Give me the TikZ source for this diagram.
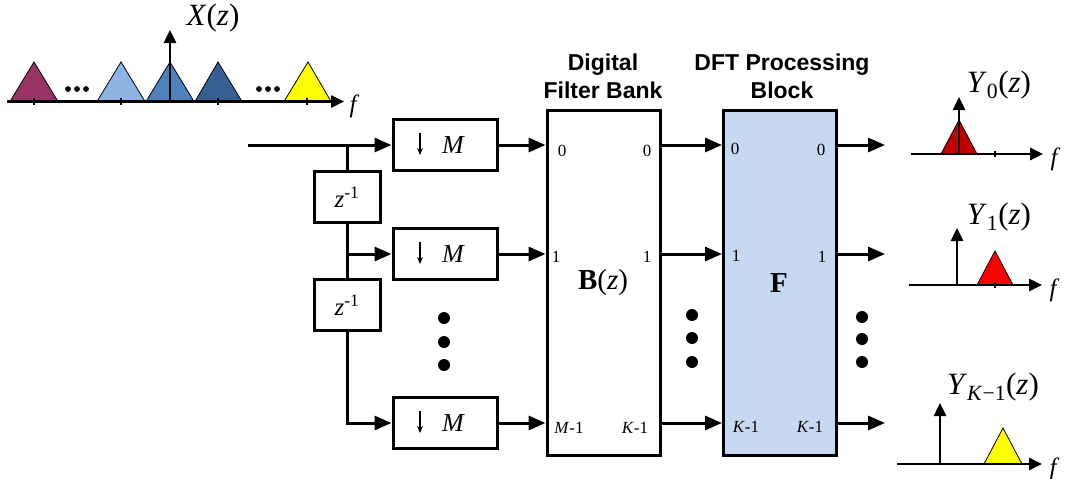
\documentclass[tikz,border=0pt]{standalone}
\usepackage{fontspec}
\setmainfont{Liberation Serif}
\newfontfamily\hdfont{Liberation Sans}
\usetikzlibrary{arrows.meta}
\definecolor{cmaroon}{HTML}{993366}
\definecolor{clblue}{HTML}{8EB4E3}
\definecolor{cmblue}{HTML}{4F81BD}
\definecolor{cdblue}{HTML}{376092}
\definecolor{cyel}{HTML}{FFFF00}
\definecolor{cdred}{HTML}{C00000}
\definecolor{cred}{HTML}{FF0000}
\definecolor{dftblue}{HTML}{C6D9F1}
\begin{document}
\begin{tikzpicture}[x=1pt,y=-1pt,
  wire/.style={line width=3pt, -{Triangle[length=17pt,width=14pt]}},
  plain/.style={line width=3pt},
  blk/.style={draw, line width=3pt, minimum width=104pt, minimum height=51pt, inner sep=0pt},
  zblk/.style={draw, line width=3pt, minimum width=66pt, minimum height=51pt, inner sep=0pt, font=\fontsize{25}{25}\selectfont},
  big/.style={draw, line width=3pt, minimum width=113pt, minimum height=345pt, inner sep=0pt},
  port/.style={font=\fontsize{17}{17}\selectfont, inner sep=0pt},
  mlab/.style={inner sep=0pt, font=\fontsize{26}{26}\selectfont\itshape},
  dnarrow/.style={line width=1.2pt, -{Stealth[length=7pt,width=6pt]}},
  title/.style={font=\hdfont\bfseries\fontsize{23}{28}\selectfont, align=center, inner sep=0pt},
  dotn/.style={circle, fill, inner sep=0pt, minimum size=12pt},
  axis/.style={line width=2.5pt, -{Triangle[length=13pt,width=12pt]}},
  tri/.style={draw=black, line width=0.8pt},
  tick/.style={line width=2pt},
  lbl/.style={inner sep=0pt, font=\fontsize{31}{31}\selectfont},
  flab/.style={inner sep=0pt, font=\fontsize{25}{25}\selectfont\itshape},
  bigtxt/.style={inner sep=0pt, font=\fontsize{29}{29}\selectfont},
]
\useasboundingbox (0,0) rectangle (1066,479);

% ---------- input spectrum ----------
\filldraw[tri, fill=cmaroon] (10,101.5) -- (34,62) -- (58,101.5) -- cycle;
\filldraw[tri, fill=clblue] (97,101.5) -- (121,62) -- (145,101.5) -- cycle;
\filldraw[tri, fill=cmblue] (146,101.5) -- (170,62) -- (194,101.5) -- cycle;
\filldraw[tri, fill=cdblue] (195,101.5) -- (218,62) -- (242,101.5) -- cycle;
\filldraw[tri, fill=cyel] (284,101.5) -- (308,62) -- (331,101.5) -- cycle;
\foreach \x in {68,77,86,259,268,277} \fill (\x,89) circle (2.9pt);
\draw[axis] (7,101.5) -- (344,101.5);
\foreach \x in {34,121,218,307} \draw[tick] (\x,98) -- (\x,105);
\draw[axis] (170,101.5) -- (170,30);
\node[lbl, font=\fontsize{31}{31}\selectfont] (xz) at (213,18) {\textit{X}(\textit{z})};
\node[flab] (f0) at (353,106) {f};

% ---------- polyphase input ----------
\node[blk] (dec0) at (445,145) {};
\node[blk] (dec1) at (445,254) {};
\node[blk] (dec2) at (445,423) {};
\foreach \i in {0,1,2} {
  \node[mlab] (m\i) at ([xshift=8pt]dec\i.center) {M};
  \draw[dnarrow] ([xshift=-25pt,yshift=12pt]dec\i.center) -- ++(0,22);
}
\node[zblk] (z0) at (347,197) {\textit{z}\textsuperscript{-1}};
\node[zblk] (z1) at (347,305) {\textit{z}\textsuperscript{-1}};
\coordinate (in) at (248,145);
\coordinate (b0) at (347,145);
\coordinate (b1) at (347,254);
\draw[wire] (in) -- (dec0.west);
\draw[plain] (b0) -- (z0.north);
\draw[plain] (z0.south) -- (z1.north);
\draw[wire] (b1) -- (dec1.west);
\draw[wire] (z1.south) |- (dec2.west);
\node[dotn] (d1a) at (444,318) {};
\node[dotn] (d1b) at (444,342) {};
\node[dotn] (d1c) at (444,365) {};

% ---------- filter bank ----------
\node[big] (fb) at (603.5,282.5) {};
\node[big, fill=dftblue] (dft) at (780,282.5) {};
\node[title] (t1) at (603,76) {Digital\\Filter Bank};
\node[title] (t2) at (782,76) {DFT Processing\\Block};
\foreach \i in {0,1,2} {
  \draw[wire] (dec\i.east) -- (dec\i.east -| fb.west);
  \draw[wire] (fb.east |- dec\i.east) -- (dft.west |- dec\i.east);
}
\node[port] (p0) at (562,151) {0};
\node[port] (p1) at (647,151) {0};
\node[port] (p2) at (556,257) {1};
\node[port] (p3) at (647,257) {1};
\node[port] (p4) at (569,428) {\textit{M}-1};
\node[port] (p5) at (635,428) {\textit{K}-1};
\node[bigtxt] (bz) at (603,283) {\textbf{B}(\textit{z})};
\node[port] (q0) at (735,149) {0};
\node[port] (q1) at (821,150) {0};
\node[port] (q2) at (736,256) {1};
\node[port] (q3) at (822,257) {1};
\node[port] (q4) at (746,427) {\textit{K}-1};
\node[port] (q5) at (810,427) {\textit{K}-1};
\node[bigtxt] (ff) at (779,283) {\textbf{F}};
\node[dotn] (d2a) at (692,315) {};
\node[dotn] (d2b) at (692,338) {};
\node[dotn] (d2c) at (692,362) {};

% ---------- outputs ----------
\coordinate (o0) at (885,145);
\coordinate (o1) at (885,254);
\coordinate (o2) at (885,423);
\foreach \i in {0,1,2} \draw[wire] (dft.east |- o\i) -- (o\i);
\node[dotn] (d3a) at (862,317) {};
\node[dotn] (d3b) at (862,339) {};
\node[dotn] (d3c) at (862,362) {};

% Y0
\filldraw[tri, fill=cdred] (941,154) -- (959,120) -- (977,154) -- cycle;
\draw[axis] (911,154) -- (1043,154);
\draw[tick] (995,151) -- (995,157);
\draw[axis] (959,154) -- (959,97);
\node[lbl] (y0) at (999,85) {\textit{Y}\textsubscript{0}(\textit{z})};
\node[flab] (f1) at (1054,159) {f};
% Y1
\filldraw[tri, fill=cred] (977,285) -- (995,251) -- (1013,285) -- cycle;
\draw[axis] (909,285) -- (1042,285);
\draw[tick] (995,282) -- (995,288);
\draw[axis] (957,285) -- (957,228);
\node[lbl] (y1) at (999,217) {\textit{Y}\textsubscript{1}(\textit{z})};
\node[flab] (f2) at (1053,290) {f};
% YK-1
\filldraw[tri, fill=cyel] (984,464) -- (1003,428) -- (1022,464) -- cycle;
\draw[axis] (897,464) -- (1042,464);
\draw[axis] (940,464) -- (940,403);
\node[lbl] (y2) at (993,387) {\textit{Y}\textsubscript{\textit{K}−1}(\textit{z})};
\node[flab] (f3) at (1053,469) {f};
\end{tikzpicture}
\end{document}
